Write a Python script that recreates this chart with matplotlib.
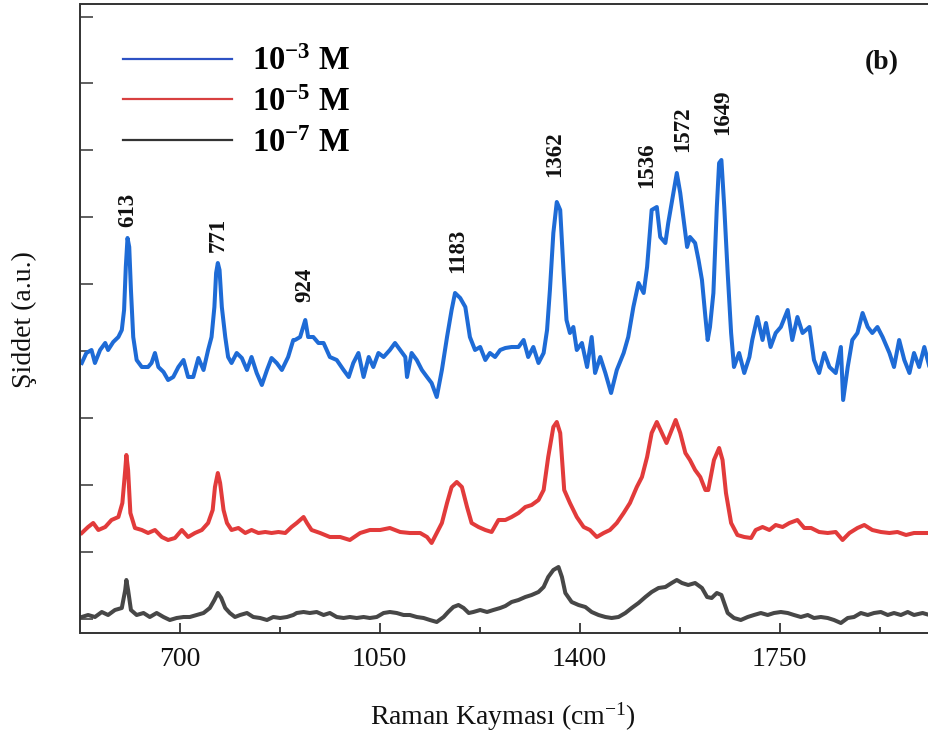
import matplotlib
matplotlib.use("Agg")
import matplotlib.pyplot as plt
from matplotlib.lines import Line2D

plt.rcParams['font.family'] = ['Liberation Serif', 'DejaVu Serif']
plt.rcParams['mathtext.fontset'] = 'custom'
plt.rcParams['mathtext.rm'] = 'Liberation Serif'
plt.rcParams['mathtext.bf'] = 'Liberation Serif:bold'
plt.rcParams['mathtext.it'] = 'Liberation Serif:italic'

# ---------------- data (Raman shift in cm-1, intensity in a.u.) ----------------
blue_x = [529, 537, 546, 552, 561, 570, 575, 584, 593, 599, 603, 606, 609, 612, 615, 619, 625, 634, 645, 651,
          657, 663, 672, 680, 689, 698, 707, 715, 724, 733, 742, 750, 756, 761, 764, 767, 770, 774, 780, 785,
          791, 800, 809, 818, 826, 835, 844, 853, 861, 870, 879, 890, 899,
          902, 911, 920, 925, 934, 943, 952, 963, 975, 987, 996, 1004, 1013, 1022, 1031, 1039, 1048, 1057, 1068, 1077,
          1086, 1095, 1098, 1106, 1115, 1124, 1133, 1141, 1150, 1159, 1168, 1176, 1182, 1191, 1200, 1208, 1217, 1226,
          1235, 1243, 1252, 1261,
          1270, 1281, 1293, 1302, 1310, 1319, 1328, 1337, 1343, 1348, 1354, 1360, 1366, 1372, 1377, 1383, 1389, 1395,
          1404, 1413, 1421, 1427, 1436, 1445, 1455, 1465, 1477, 1485, 1494, 1503, 1512, 1518, 1526, 1535, 1541, 1550,
          1555, 1564, 1570, 1576, 1582, 1588, 1593, 1602, 1608, 1614, 1620, 1624, 1628, 1634, 1640,
          1644, 1648, 1653, 1659, 1665, 1670, 1679, 1688, 1697, 1702, 1711, 1720, 1726, 1734, 1743, 1752, 1764, 1772,
          1781, 1790, 1802, 1810, 1819, 1828, 1837, 1848, 1857, 1861, 1869, 1877, 1886, 1895, 1904, 1912, 1921, 1930,
          1942, 1950, 1959, 1968, 1977, 1985, 1994, 2003, 2012]
blue_y = [270, 280, 283, 270, 283, 290, 283, 291, 296, 303, 323, 366, 395, 386, 343, 296, 273, 266, 266, 270,
          280, 266, 261, 253, 256, 266, 273, 256, 256, 275, 263, 283, 296, 326, 360, 370, 363, 326, 296, 276,
          270, 280, 275, 263, 276, 260, 248, 263, 275, 270, 263, 276, 293,
          293, 296, 313, 296, 296, 290, 290, 276, 273, 263, 256, 270, 280, 256, 276, 266, 280, 276, 283, 290,
          283, 276, 256, 280, 273, 263, 256, 250, 236, 263, 296, 323, 340, 335, 326, 296, 283, 286,
          273, 280, 276, 283,
          285, 286, 286, 293, 276, 286, 270, 280, 303, 343, 400, 431, 423, 360, 313, 300, 306, 283,
          290, 266, 296, 260, 276, 260, 240, 263, 280, 296, 326, 350, 340, 366, 423, 426, 396, 390,
          410, 440, 460, 440, 413, 386, 396, 390, 373, 353, 316, 293, 306, 340, 426,
          470, 473, 426, 360, 300, 266, 280, 260, 276, 293, 316, 293, 310, 286, 300, 306, 323, 293,
          316, 300, 306, 273, 260, 280, 266, 260, 286, 233, 266, 293, 300, 320, 306, 300, 306, 296,
          280, 266, 293, 273, 260, 280, 266, 286, 266]

red_x = [529, 540, 549, 558, 570, 581, 593, 600, 605, 607, 610, 614, 622, 634, 645, 657, 669, 680, 692, 704,
         715, 727, 739, 750, 758, 762, 767, 771, 777, 783, 791, 803, 815, 826, 838, 850, 861, 873, 885, 896,
         905, 917, 923, 931, 946, 963, 981, 998, 1016, 1033, 1051, 1068, 1086, 1103, 1121, 1133, 1141, 1150, 1159,
         1168, 1176, 1185, 1194, 1203, 1211, 1223, 1235, 1246, 1258,
         1270, 1281, 1293, 1305, 1316, 1328, 1337, 1345, 1354, 1360, 1366, 1373, 1383, 1395, 1407, 1418, 1430, 1442,
         1453, 1465, 1477, 1488, 1500, 1509, 1518, 1526, 1535, 1544, 1552, 1561, 1568, 1576, 1585, 1593, 1602, 1611,
         1620, 1625,
         1635, 1644, 1650, 1656, 1665, 1676, 1688, 1700, 1708, 1720, 1732, 1743, 1755, 1767, 1781, 1793, 1805, 1819,
         1834, 1848, 1860, 1872, 1886, 1898, 1912, 1927, 1942, 1956, 1971, 1985, 2000, 2012]
red_y = [100, 106, 110, 103, 106, 113, 116, 130, 163, 178, 163, 120, 105, 103, 100, 103, 96, 93, 95, 103,
         96, 100, 103, 110, 123, 146, 160, 150, 123, 110, 103, 105, 100, 103, 100, 101, 100, 101, 100, 106,
         110, 116, 110, 103, 100, 96, 96, 93, 100, 103, 103, 105, 101, 100, 100, 96, 90, 100, 110,
         130, 146, 151, 146, 126, 110, 106, 103, 101, 113,
         113, 116, 120, 126, 128, 133, 143, 176, 206, 211, 200, 143, 130, 116, 106, 103, 96, 100,
         103, 110, 120, 130, 146, 156, 176, 200, 211, 200, 190, 203, 213, 200, 180, 173, 163, 156,
         143, 143,
         173, 185, 173, 140, 110, 98, 96, 95, 103, 106, 103, 108, 106, 110, 113, 105, 105, 101,
         100, 101, 93, 100, 105, 108, 103, 101, 100, 101, 98, 100, 100, 100]

black_x = [529, 540, 552, 564, 575, 587, 599, 605, 607, 610, 615, 625, 637, 648, 660, 672, 683, 695, 707, 718,
           730, 742, 753, 761, 767, 773, 780, 788, 797, 806, 818, 829, 841, 853, 864, 876, 888, 899,
           905, 917, 928, 940, 952, 963, 975, 987, 998, 1010, 1022, 1033, 1045, 1057, 1068, 1080, 1092, 1103,
           1115, 1127, 1138, 1150, 1162, 1170, 1179, 1188, 1197, 1206, 1214, 1226, 1238, 1249, 1261,
           1270, 1281, 1293, 1305, 1316, 1328, 1337, 1345, 1354, 1363, 1369, 1375, 1386, 1398, 1410, 1421, 1433,
           1445, 1456, 1468, 1480, 1491, 1503, 1515, 1526, 1538, 1550, 1561, 1570, 1579, 1590, 1602, 1614, 1623,
           1631, 1640, 1648, 1659, 1670, 1682, 1694, 1705, 1717, 1729, 1740, 1752, 1764, 1775, 1787, 1799, 1810,
           1822, 1834, 1845, 1857, 1869, 1880, 1892, 1904, 1915, 1927, 1939, 1950, 1962, 1974, 1985, 2000, 2012]
black_y = [16, 18, 16, 21, 18, 23, 25, 43, 53, 43, 23, 18, 20, 16, 20, 16, 13, 15, 16, 16,
           18, 20, 25, 33, 40, 35, 25, 20, 16, 18, 20, 16, 15, 13, 16, 15, 16, 18,
           20, 21, 20, 21, 18, 20, 16, 15, 16, 15, 16, 15, 16, 20, 21, 20, 18, 18,
           16, 15, 13, 11, 16, 21, 26, 28, 25, 20, 21, 23, 21, 23, 25,
           27, 31, 33, 36, 38, 41, 46, 56, 63, 66, 56, 40, 31, 28, 26, 21, 18,
           16, 15, 16, 20, 25, 30, 36, 41, 45, 46, 50, 53, 50, 48, 50, 45, 36,
           35, 40, 38, 20, 15, 13, 16, 18, 20, 18, 20, 21, 20, 18, 16, 18, 15,
           16, 15, 13, 10, 15, 16, 20, 18, 20, 21, 18, 20, 18, 21, 18, 20, 18]

series_labels = [r'$\mathbf{10^{-3}}$ M', r'$\mathbf{10^{-5}}$ M', r'$\mathbf{10^{-7}}$ M']

peak_labels = ['613', '771', '924', '1183', '1362', '1536', '1572', '1649']
peak_label_x = [610, 767, 920, 1186, 1357, 1518, 1581, 1651]
peak_label_y = [406, 381, 331, 360, 456, 445, 481, 498]

x_major = [700, 1050, 1400, 1750]
x_minor = [875, 1225, 1575, 1925]

# ---------------- figure ----------------
W, H = 929, 738
fig = plt.figure(figsize=(W / 100, H / 100), dpi=100)
ax_left, ax_right, ax_top, ax_bottom = 80.5, 960, 4, 633
ax = fig.add_axes([ax_left / W, 1 - ax_bottom / H, (ax_right - ax_left) / W, (ax_bottom - ax_top) / H])

c_blue = '#1e6bd6'
c_red = '#e23b3b'
c_black = '#474747'
ax.plot(blue_x, blue_y, color=c_blue, lw=2.9, solid_joinstyle='round')
ax.plot(red_x, red_y, color=c_red, lw=2.9, solid_joinstyle='round')
ax.plot(black_x, black_y, color=c_black, lw=2.9, solid_joinstyle='round')

ax.set_xlim(526.75, 526.75 + (ax_right - ax_left) * 1.7495)
ax.set_ylim(0, 629)

ax.set_xticks(x_major)
ax.set_xticks(x_minor, minor=True)
ax.set_yticks([14.3 + 66.9 * k for k in range(10)])
ax.set_yticklabels([])
ax.tick_params(axis='x', which='major', direction='in', length=7.5, width=1.2,
               labelsize=20, pad=10, colors='#222222')
ax.tick_params(axis='x', which='minor', direction='in', length=4.5, width=1.2, colors='#222222')
ax.tick_params(axis='y', which='major', direction='in', length=9.5, width=1.2, colors='#444444')
for lab in ax.get_xticklabels():
    lab.set_color('#111111')
for s in ax.spines.values():
    s.set_linewidth(1.4)
    s.set_color('#333333')

# peak annotations
for lab, px, py in zip(peak_labels, peak_label_x, peak_label_y):
    ax.text(px, py, lab, rotation=90, ha='center', va='bottom', fontsize=16.5,
            fontweight='bold', color='#111111')

ax.text(1929, 570, '(b)', ha='center', va='center', fontsize=20, fontweight='bold', color='#111111')

# legend
handles = [Line2D([], [], color='#2d52c4', lw=1.6),
           Line2D([], [], color='#d84040', lw=1.6),
           Line2D([], [], color='#333333', lw=1.6)]
fs_leg = 23.5
leg = fig.legend(handles, series_labels, loc='upper left', bbox_to_anchor=(123 / W, 1 - 46 / H),
                 frameon=False, borderpad=0, borderaxespad=0, handlelength=109 / (fs_leg * 1.389),
                 handletextpad=20 / (fs_leg * 1.389), labelspacing=0.3, prop={'size': fs_leg, 'weight': 'bold'})

fig.text(503 / W, 1 - 717 / H, 'Raman Kayması (cm$^{\\mathregular{-1}}$)', ha='center', va='center',
         fontsize=20, color='#111111')
fig.text(24 / W, 1 - 320 / H, 'Şiddet (a.u.)', rotation=90, ha='center', va='center',
         fontsize=20, color='#111111')

fig.savefig('out.png', dpi=100)
